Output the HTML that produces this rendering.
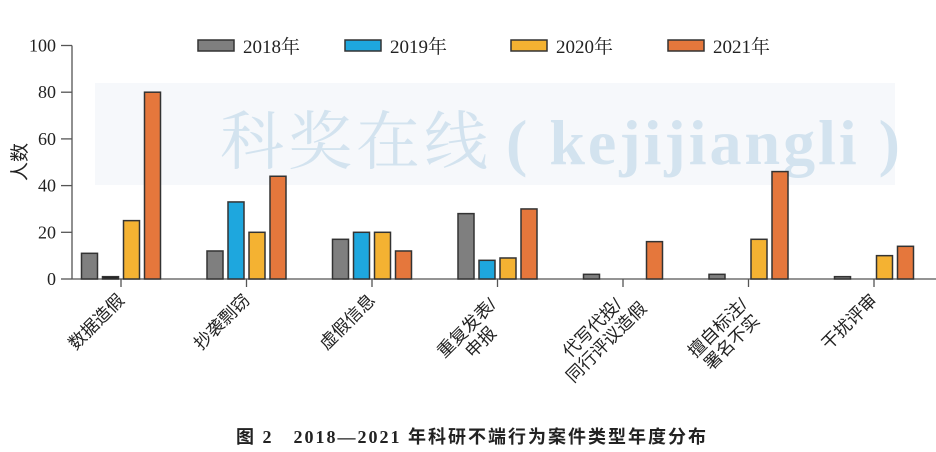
<!DOCTYPE html>
<html><head><meta charset="utf-8">
<style>
html,body{margin:0;padding:0;background:#fff;}
svg{display:block;}
text{font-family:"Liberation Serif","Noto Serif CJK SC",serif;}
.cjk{font-family:"Liberation Sans","Noto Sans CJK SC",sans-serif;}
</style></head>
<body>
<svg id="chart" width="936" height="452" viewBox="0 0 936 452" xmlns="http://www.w3.org/2000/svg">
  <rect x="95" y="83" width="800" height="102" fill="#f6f8fb"/>
  <text x="220" y="164" font-size="64" fill="#d3e3ef" style="font-family:'Noto Serif CJK SC','WenQuanYi Zen Hei',serif;letter-spacing:4px;">科奖在线</text>
  <text x="506" y="164" font-size="64" font-weight="bold" fill="#d3e3ef" style="letter-spacing:3px;">( kejijiangli )</text>
  <g id="axes"></g>
  <g id="bars"></g>
  <g id="legend"></g>
  <text transform="translate(26,162) rotate(-90)" text-anchor="middle" font-size="19" class="cjk" fill="#222">人数</text>
  <text x="472" y="443" text-anchor="middle" font-size="18" font-weight="bold" fill="#222" style="font-family:'Liberation Serif','Noto Sans CJK SC',serif;letter-spacing:2px;">图 2　2018—2021 年科研不端行为案件类型年度分布</text>
</svg>
<script>
const categories = [["数据造假"],["抄袭剽窃"],["虚假信息"],["重复发表/","申报"],["代写代投/","同行评议造假"],["擅自标注/","署名不实"],["干扰评审"]];
const seriesNames = ["2018年","2019年","2020年","2021年"];
const s2018 = [11,12,17,28,2,2,1];
const s2019 = [1,33,20,8,0,0,0];
const s2020 = [25,20,20,9,0,17,10];
const s2021 = [80,44,12,30,16,46,14];
const yTicks = [0,20,40,60,80,100];

const series=[s2018,s2019,s2020,s2021];
const colors=["#7f7f7f","#1ea7de","#f4b232","#e5773c"];
const NS="http://www.w3.org/2000/svg";
const y0=279,y1=45.5,ymax=100;
const yS=v=>y0-(v/ymax)*(y0-y1);
const xC=i=>121+i*125.5;
const offs=[-31.5,-10.5,10.5,31.5], bw=16;
function mk(t,a,p){const e=document.createElementNS(NS,t);for(const k in a)e.setAttribute(k,a[k]);p.appendChild(e);return e;}
const ax=document.getElementById('axes');
let l=mk('line',{x1:72,y1:y1,x2:72,y2:y0,stroke:'#555','stroke-width':1.3},ax);


l=mk('line',{x1:72,y1:y0,x2:936,y2:y0,stroke:'#555','stroke-width':1.3},ax);


yTicks.forEach(v=>{
  const t=mk('line',{x1:61,y1:yS(v),x2:72,y2:yS(v),stroke:'#555','stroke-width':1.3},ax);
  
  
  const tx=mk('text',{x:56,y:yS(v)+6,'text-anchor':'end','font-size':18,fill:'#222'},ax);
  tx.textContent=v;
  
  
});
categories.forEach((lines,i)=>{
  const x=xC(i);
  const t=mk('line',{x1:x,y1:y0,x2:x,y2:y0+8,stroke:'#555','stroke-width':1.3},ax);
  
  
  const g=mk('g',{transform:`translate(${x},${y0+18}) rotate(-45)`},ax);
  
  
  const w1=lines[0].length*17.5;
  lines.forEach((s,j)=>{
    const tx=mk('text',{x:-w1/2,y:j*20+6,'text-anchor':'middle','font-size':17.5,fill:'#222',class:'cjk'},g);
    tx.textContent=s;
  });
});
const bg=document.getElementById('bars');
series.forEach((arr,si)=>{
  arr.forEach((v,i)=>{
    if(v<=0)return;
    const r=mk('rect',{x:xC(i)+offs[si]-bw/2,y:yS(v),width:bw,height:y0-yS(v),fill:(si===1&&v<=1)?'#222':colors[si],stroke:'#333','stroke-width':1.5},bg);
    
    
  });
});
const lg=document.getElementById('legend');
const lx=[198,345,511,668];
seriesNames.forEach((n,si)=>{
  const g=mk('g',{},lg);
  
  
  mk('rect',{x:lx[si],y:40,width:36,height:11,fill:colors[si],stroke:'#333','stroke-width':1.5},g);
  const t=mk('text',{x:lx[si]+45,y:53,'font-size':19,fill:'#222'},g);
  t.textContent=n;
});
</script>
</body></html>
